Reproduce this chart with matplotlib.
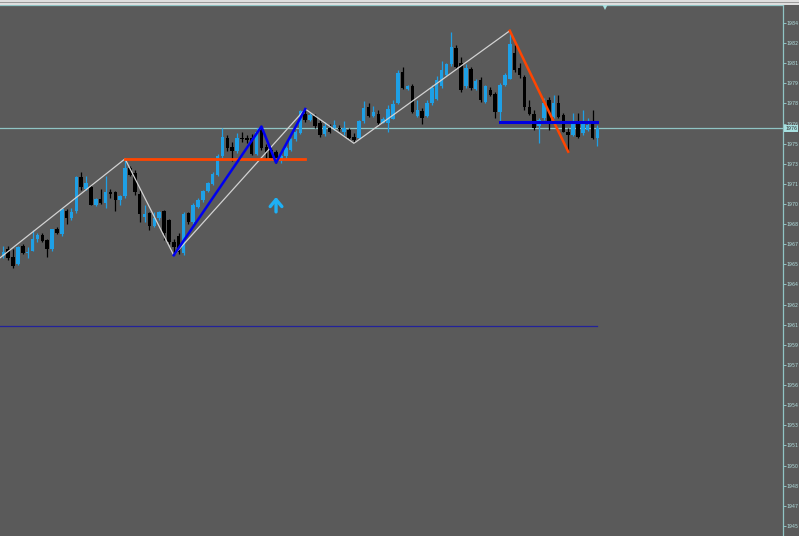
#! /usr/bin/python

import matplotlib
matplotlib.use("Agg")
import matplotlib.pyplot as plt
from matplotlib.patches import Rectangle

# candle data, one bar per entry
opens = [1966.4, 1966.9, 1966.3, 1965.8, 1967.2, 1966.6, 1966.8, 1967.7, 1968.0, 1967.6,
	1966.9, 1968.5, 1968.1, 1969.9, 1969.3, 1969.9, 1972.5, 1971.6, 1971.7, 1970.33,
	1970.8, 1970.5, 1971.3, 1971.3, 1970.7, 1971.0, 1973.2, 1972.8, 1971.2, 1969.38,
	1969.7, 1968.7, 1969.3, 1969.9, 1969.2, 1967.5, 1967.9, 1966.6, 1969.7, 1969.0,
	1970.2, 1970.7, 1971.4, 1971.95, 1972.65, 1974.1, 1975.5, 1974.8, 1974.5, 1975.5,
	1975.5, 1975.5, 1974.3, 1976.1, 1974.8, 1974.6, 1974.4, 1973.7, 1974.1, 1974.6,
	1975.4, 1975.9, 1977.4, 1976.9, 1977.2, 1976.65, 1975.8, 1976.3, 1976.3, 1976.3,
	1976.0, 1976.1, 1975.6, 1975.5, 1976.8, 1977.9, 1977.2, 1977.4, 1976.7, 1976.65,
	1977.0, 1978.2, 1980.6, 1979.3, 1979.5, 1977.2, 1977.6, 1977.2, 1978.2, 1978.53,
	1979.5, 1980.4, 1981.2, 1982.45, 1981.3, 1979.5, 1980.85, 1979.3, 1980.0, 1978.3,
	1979.2, 1978.9, 1977.55, 1979.6, 1980.1, 1982.06, 1980.9, 1980.25, 1977.9, 1977.4,
	1976.4, 1977.03, 1978.45, 1977.16, 1978.2, 1977.3, 1976.0, 1975.75, 1976.8, 1975.9,
	1976.13, 1976.8, 1975.5]
highs = [1967.2, 1967.2, 1966.9, 1967.2, 1967.3, 1967.1, 1968.4, 1968.2, 1968.2, 1967.7,
	1968.5, 1968.6, 1970.1, 1970.0, 1970.1, 1972.6, 1972.9, 1972.6, 1971.9, 1970.85,
	1971.6, 1972.6, 1971.6, 1971.4, 1971.1, 1973.9, 1973.35, 1973.0, 1971.5, 1970.3,
	1969.8, 1969.8, 1969.9, 1969.95, 1969.25, 1967.7, 1968.2, 1969.8, 1969.8, 1970.5,
	1970.9, 1971.5, 1972.1, 1972.9, 1974.3, 1976.3, 1975.75, 1975.2, 1975.9, 1976.0,
	1975.75, 1975.8, 1976.3, 1976.4, 1975.05, 1974.75, 1974.6, 1974.4, 1974.9, 1975.5,
	1976.1, 1977.7, 1977.75, 1977.45, 1977.4, 1976.9, 1976.75, 1976.6, 1976.9, 1976.5,
	1976.8, 1976.3, 1975.9, 1976.9, 1978.4, 1978.2, 1978.0, 1977.7, 1977.1, 1978.06,
	1978.45, 1980.8, 1981.0, 1979.6, 1979.7, 1978.45, 1977.8, 1978.45, 1979.6, 1980.3,
	1981.5, 1981.3, 1983.7, 1982.7, 1981.8, 1981.2, 1981.0, 1980.1, 1980.2, 1979.6,
	1979.45, 1979.07, 1979.8, 1980.5, 1983.8, 1982.7, 1981.3, 1980.4, 1978.45, 1977.7,
	1977.06, 1978.6, 1978.7, 1978.84, 1978.84, 1977.45, 1976.3, 1977.45, 1977.45, 1977.7,
	1977.06, 1977.7, 1976.5]
lows = [1966.2, 1966.1, 1965.5, 1965.7, 1966.55, 1966.2, 1966.75, 1967.5, 1967.5, 1966.3,
	1966.8, 1968.1, 1967.9, 1968.9, 1969.2, 1969.7, 1971.5, 1971.5, 1970.3, 1970.28,
	1970.4, 1970.1, 1970.9, 1969.9, 1970.3, 1970.9, 1972.6, 1971.1, 1969.0, 1969.0,
	1968.4, 1968.6, 1969.2, 1967.6, 1967.3, 1966.45, 1966.55, 1966.5, 1968.9, 1968.9,
	1970.1, 1970.6, 1971.3, 1971.9, 1972.6, 1974.0, 1974.5, 1973.7, 1974.35, 1975.2,
	1975.1, 1974.2, 1974.2, 1974.6, 1973.9, 1973.8, 1973.6, 1973.6, 1973.97, 1974.5,
	1975.3, 1975.8, 1976.75, 1976.8, 1976.3, 1975.6, 1975.67, 1975.9, 1976.1, 1976.05,
	1975.75, 1975.4, 1975.1, 1975.4, 1976.7, 1977.1, 1977.1, 1976.5, 1976.67, 1975.98,
	1976.98, 1978.14, 1979.3, 1979.2, 1977.45, 1977.15, 1976.6, 1977.1, 1978.06, 1978.45,
	1979.4, 1980.3, 1981.1, 1980.9, 1979.1, 1979.4, 1979.2, 1979.2, 1978.3, 1978.2,
	1978.76, 1977.06, 1976.77, 1979.5, 1980.07, 1980.6, 1980.15, 1977.7, 1977.3, 1976.13,
	1975.1, 1976.9, 1976.13, 1977.06, 1977.06, 1975.98, 1974.45, 1975.67, 1975.5, 1975.75,
	1976.05, 1975.4, 1974.9]
closes = [1966.7, 1966.2, 1965.6, 1967.1, 1966.6, 1966.7, 1967.7, 1968.0, 1967.55, 1966.9,
	1968.45, 1968.2, 1970.0, 1969.3, 1969.8, 1972.5, 1971.7, 1972.0, 1970.35, 1970.8,
	1970.5, 1971.3, 1971.2, 1970.7, 1971.0, 1973.2, 1972.65, 1971.3, 1969.6, 1969.64,
	1968.7, 1969.3, 1969.8, 1968.2, 1967.5, 1967.1, 1966.7, 1969.6, 1969.0, 1970.3,
	1970.7, 1971.4, 1972.0, 1972.7, 1974.1, 1975.6, 1974.7, 1974.5, 1975.5, 1975.4,
	1975.35, 1974.3, 1976.0, 1974.7, 1974.45, 1973.95, 1973.8, 1974.15, 1974.7, 1975.4,
	1975.95, 1977.6, 1976.9, 1977.3, 1976.4, 1975.75, 1976.4, 1976.0, 1976.5, 1976.2,
	1976.3, 1975.5, 1975.35, 1976.8, 1977.8, 1977.2, 1977.5, 1976.65, 1976.95, 1977.75,
	1978.1, 1980.5, 1979.35, 1979.5, 1977.55, 1977.7, 1977.05, 1978.2, 1979.35, 1980.0,
	1980.8, 1981.2, 1982.55, 1981.0, 1979.2, 1980.9, 1979.35, 1979.9, 1978.45, 1979.5,
	1978.84, 1977.55, 1979.6, 1980.4, 1982.8, 1980.77, 1980.4, 1977.9, 1977.4, 1976.3,
	1976.9, 1978.2, 1976.8, 1978.2, 1977.16, 1976.0, 1975.75, 1976.65, 1975.6, 1976.65,
	1976.52, 1975.5, 1976.26]

# zigzag (thin white)
zigzag_idx = [-1, 25, 35, 62, 72, 104]
zigzag_price = [1966.15, 1973.9, 1966.45, 1977.75, 1975.1, 1983.8]

# pattern legs (blue) and levels
pattern_idx = [35, 53, 56, 62]
pattern_price = [1966.45, 1976.4, 1973.6, 1977.75]
orange_level_idx = [25, 62]
orange_level_price = 1973.9
orange_leg_idx = [104, 116]
orange_leg_price = [1983.8, 1974.45]
blue_level_idx = [102, 122]
blue_level_price = 1976.77
navy_level_idx = [-1, 122]
navy_level_price = 1960.98

# buy signal arrow
signal_idx = [56]
signal_price = [1970.95]

# chart shift marker
shift_idx = 123.6

# price scale
ytick_values = [1984.40, 1982.85, 1981.29, 1979.74, 1978.18, 1976.63, 1975.07, 1973.52, 1971.96,
	1970.41, 1968.85, 1967.30, 1965.74, 1964.19, 1962.63, 1961.08, 1959.52, 1957.97,
	1956.41, 1954.86, 1953.30, 1951.75, 1950.19, 1948.64, 1947.08, 1945.53]
ytick_labels = ["1984", "1982", "1981", "1979", "1978", "1976", "1975", "1973", "1971",
	"1970", "1968", "1967", "1965", "1964", "1962", "1961", "1959", "1957",
	"1956", "1954", "1953", "1951", "1950", "1948", "1947", "1945"]
price_box_label = "1976"

BG = "#5a5a5a"
BULL = "#1ea0e6"
BEAR = "#000000"
AXIS = "#90c4c4"
TEXT = "#b0dcdc"


def drawCandles(ax):
	for i in range(len(opens)):
		o, h, l, c = opens[i], highs[i], lows[i], closes[i]
		color = BULL if c >= o else BEAR
		ax.vlines(i, l, h, color=color, linewidth=0.9, zorder=3)
		bottom = min(o, c)
		height = max(abs(c - o), 0.07)
		ax.bar(i, height, bottom=bottom, width=0.72, color=color, linewidth=0, zorder=4)


def main():
	fig = plt.figure(figsize=(7.99, 5.36), dpi=100, facecolor=BG)
	ax = fig.add_axes([0, 0, 783 / 799.0, 1 - 5 / 536.0], facecolor=BG)

	#toolbar strip on top
	fig.patches.append(Rectangle((0, 1 - 4.5 / 536.0), 1, 4.5 / 536.0,
		transform=fig.transFigure, facecolor="#dedede", edgecolor="none", zorder=0))
	fig.patches.append(Rectangle((0, 1 - 3.2 / 536.0), 1, 0.9 / 536.0,
		transform=fig.transFigure, facecolor="#9a9a9a", edgecolor="none", zorder=1))

	#current price line
	ax.axhline(closes[-1], color="#8fc4c4", linewidth=0.9, zorder=2)

	#navy level
	ax.plot(navy_level_idx, [navy_level_price] * 2, color="#22229a", linewidth=0.9, zorder=2)

	drawCandles(ax)

	#zigzag
	ax.plot(zigzag_idx, zigzag_price, color="#d2d2d2", linewidth=0.9, zorder=5)

	#pattern
	ax.plot(orange_level_idx, [orange_level_price] * 2, color="#ff4500", linewidth=2.0, zorder=6)
	ax.plot(orange_leg_idx, orange_leg_price, color="#ff4500", linewidth=1.8, zorder=6)
	ax.plot(pattern_idx, pattern_price, color="#0000f0", linewidth=1.8, zorder=6)
	ax.plot(blue_level_idx, [blue_level_price] * 2, color="#0000e0", linewidth=2.2, zorder=6)

	#signal arrow
	for i, p in zip(signal_idx, signal_price):
		ax.annotate("", xy=(i, p), xytext=(i, p - 1.15),
			arrowprops=dict(arrowstyle="->,head_length=0.5,head_width=0.42",
				color="#1eb0f5", linewidth=2.4, shrinkA=0, shrinkB=0), zorder=7)

	#shift marker
	ax.plot([shift_idx], [1985.62], marker="v", markersize=4, color="#a8e0e0",
		markeredgewidth=0, clip_on=False, zorder=8)

	ax.set_xlim(-0.68, 160.1)
	ax.set_ylim(1944.75, 1985.79)

	ax.yaxis.tick_right()
	ax.set_yticks(ytick_values)
	ax.set_yticklabels(ytick_labels)
	ax.tick_params(axis="y", colors=AXIS, labelcolor=TEXT, labelsize=3.4, length=2,
		width=0.7, pad=0.8)
	ax.set_xticks([])

	for side in ["left", "bottom"]:
		ax.spines[side].set_visible(False)
	for side in ["right", "top"]:
		ax.spines[side].set_color(AXIS)
		ax.spines[side].set_linewidth(0.9)

	#price box on the scale
	ax.text(1.003, closes[-1], price_box_label, transform=ax.get_yaxis_transform(),
		fontsize=3.4, color="#303030", va="center", ha="left",
		bbox=dict(boxstyle="square,pad=0.2", facecolor="#a8e0e0", edgecolor="none"),
		clip_on=False, zorder=9)

	fig.savefig("out.png", dpi=100, facecolor=BG)


if __name__ == "__main__":
	main()
